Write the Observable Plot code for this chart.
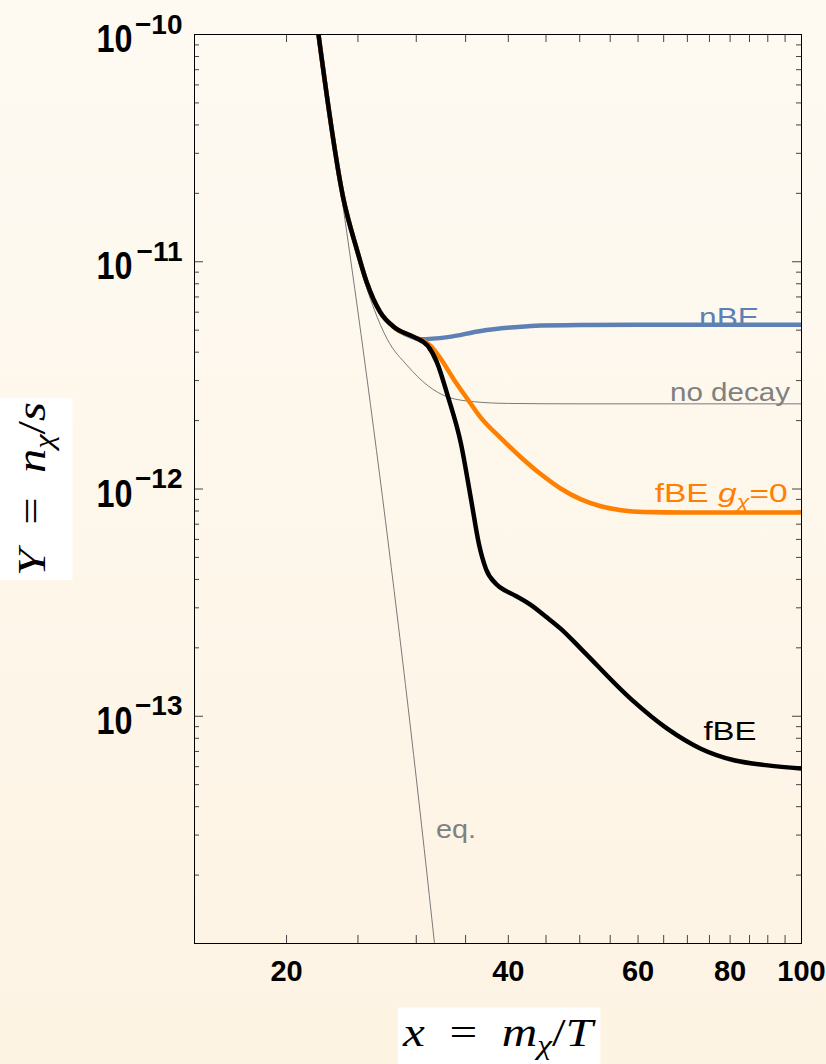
<!DOCTYPE html>
<html><head><meta charset="utf-8">
<script src="https://cdn.jsdelivr.net/npm/d3@7"></script>
<script src="https://cdn.jsdelivr.net/npm/@observablehq/plot@0.6"></script>
<style>
html,body{margin:0;padding:0;width:826px;height:1064px;overflow:hidden;
  background:linear-gradient(180deg,#fefaf2 0%,#fdf3e3 100%);}
#chart svg{display:block;max-width:none;}
</style></head><body><div id="chart"></div>
<script>
// ---------- data ----------
const fbeX = [22.1, 23.9, 24.9, 25.7, 26.8, 28.0, 29.8, 31.1, 32.0, 33.1, 34.5, 35.6, 36.5, 37.3, 38.5, 39.7, 40.9, 42.9, 45.0, 47.1, 50.2, 58.7, 65.8, 73.0, 81.0, 90.0, 100];
const fbeY = [1e-10, 1.88e-11, 1.14e-11, 8.1e-12, 6.0e-12, 5.15e-12, 4.66e-12, 4.26e-12, 3.61e-12, 2.57e-12, 1.58e-12, 9.0e-13, 5.7e-13, 4.45e-13, 3.82e-13, 3.56e-13, 3.39e-13, 3.09e-13, 2.74e-13, 2.43e-13, 1.98e-13, 1.19e-13, 8.8e-14, 7.2e-14, 6.4e-14, 6.08e-14, 5.88e-14];

const fbe0X = [22.1, 23.9, 24.9, 25.7, 26.8, 28.0, 29.8, 31.4, 32.4, 33.7, 35.2, 36.7, 39.1, 41.6, 44.3, 47.1, 50.2, 53.4, 56.9, 61.1, 70, 100];
const fbe0Y = [1e-10, 1.88e-11, 1.14e-11, 8.1e-12, 6.0e-12, 5.15e-12, 4.66e-12, 4.26e-12, 3.73e-12, 3.05e-12, 2.49e-12, 2.06e-12, 1.67e-12, 1.38e-12, 1.16e-12, 1.005e-12, 9.0e-13, 8.4e-13, 8.07e-13, 7.92e-13, 7.88e-13, 7.88e-13];

const nbeX = [22.1, 23.9, 24.9, 25.7, 26.8, 28.0, 29.0, 30.4, 33.1, 36.7, 40.7, 42.9, 50, 60, 100];
const nbeY = [1e-10, 1.88e-11, 1.14e-11, 8.1e-12, 6.0e-12, 5.15e-12, 4.8e-12, 4.56e-12, 4.66e-12, 4.96e-12, 5.15e-12, 5.22e-12, 5.27e-12, 5.28e-12, 5.28e-12];

const noDecayX = [22.1, 23.9, 24.6, 25.2, 26.3, 27.4, 29.2, 31.1, 33.1, 36.0, 40.0, 50, 100];
const noDecayY = [1e-10, 1.88e-11, 1.3e-11, 9.5e-12, 6.18e-12, 4.56e-12, 3.48e-12, 2.85e-12, 2.54e-12, 2.42e-12, 2.38e-12, 2.37e-12, 2.37e-12];

const eqX = [22, 23, 24, 25, 26, 27, 28, 29, 30, 31, 32];
const eqY = [1.0e-10, 3.93e-11, 1.54e-11, 6.02e-12, 2.35e-12, 9.15e-13, 3.55e-13, 1.38e-13, 5.34e-14, 2.06e-14, 7.97e-15];

const xTicks = [20, 25, 30, 35, 40, 45, 50, 55, 60, 65, 70, 75, 80, 85, 90, 95, 100];
const xTickLabels = [20, 40, 60, 80, 100];
const yExponents = [-10, -11, -12, -13, -14];
const yLabelExponents = [-10, -11, -12, -13];

// series labels: left end of each label, text baseline
const labelText = ["nBE", "no decay", "fBE g\u03c7=0", "fBE", "eq."];
const labelX = [72.6, 66.3, 63.2, 73.6, 31.9];
const labelY = [5.24e-12, 2.45e-12, 8.73e-13, 7.9e-14, 2.9e-14];

const xTitle = "x = m\u03c7/T";
const yTitle = "Y = n\u03c7/s";

// ---------- styles / layout ----------
const W = 826, H = 1064, mL = 194, mR = 25, mT = 34, mB = 121;
const PW = W - mL - mR, PH = H - mT - mB;
const labelColor = ["#5e81b5", "#808080", "#ff8000", "#000000", "#808080"];
const labelWidth = [60, 120, 133, 53, 40];

const zip = (xs, ys) => xs.map((x, i) => ({x, y: ys[i]}));
const fbe = zip(fbeX, fbeY), fbe0 = zip(fbe0X, fbe0Y), nbe = zip(nbeX, nbeY),
      noDecay = zip(noDecayX, noDecayY), eq = zip(eqX, eqY);
const labels = labelText.map((t, i) => ({t, x: labelX[i], y: labelY[i], c: labelColor[i]}));

const yMajor = yExponents.map(e => Math.pow(10, e));
const yMinor = [];
for (const e of yExponents.slice(1)) for (let k = 2; k <= 9; k++) yMinor.push(k * Math.pow(10, e));

const sans = "'Liberation Sans', Arial, Helvetica, sans-serif";
const serif = "'Liberation Serif', 'Times New Roman', serif";
const tickColor = "#444";

const chart = Plot.plot({
  width: W, height: H,
  marginLeft: mL, marginRight: mR, marginTop: mT, marginBottom: mB,
  style: {background: "transparent", fontFamily: sans, overflow: "visible"},
  x: {type: "log", domain: [15, 100], axis: null},
  y: {type: "log", domain: [1e-14, 1e-10], axis: null},
  marks: [
    // ticks (inward, on all four sides)
    Plot.tickX(xTicks, {x: d => d, insetTop: PH - 8, stroke: tickColor}),
    Plot.tickX(xTicks, {x: d => d, insetBottom: PH - 8, stroke: tickColor}),
    Plot.tickY(yMajor, {y: d => d, insetRight: PW - 9, stroke: tickColor}),
    Plot.tickY(yMajor, {y: d => d, insetLeft: PW - 9, stroke: tickColor}),
    Plot.tickY(yMinor, {y: d => d, insetRight: PW - 5, stroke: tickColor}),
    Plot.tickY(yMinor, {y: d => d, insetLeft: PW - 5, stroke: tickColor}),
    // curves
    Plot.line(eq, {x: "x", y: "y", stroke: "#7a7a7a", strokeWidth: 1, curve: "monotone-x", clip: true}),
    Plot.line(noDecay, {x: "x", y: "y", stroke: "#7a7a7a", strokeWidth: 1, curve: "monotone-x", clip: true}),
    Plot.line(nbe, {x: "x", y: "y", stroke: "#5e81b5", strokeWidth: 4.5, curve: "monotone-x", clip: true}),
    Plot.line(fbe0, {x: "x", y: "y", stroke: "#ff8000", strokeWidth: 4.5, curve: "monotone-x", clip: true}),
    Plot.line(fbe, {x: "x", y: "y", stroke: "#000000", strokeWidth: 4.5, curve: "monotone-x", clip: true}),
    Plot.frame({stroke: "#000", strokeWidth: 1}),
    // tick labels
    Plot.text(xTickLabels, {x: d => d, frameAnchor: "bottom", text: d => String(d), lineAnchor: "bottom",
      dy: 37, fontSize: 29, fontWeight: "bold", fill: "#000", fontFamily: sans}),
    Plot.text(yLabelExponents, {y: d => Math.pow(10, d), frameAnchor: "left", text: () => "10", textAnchor: "end",
      lineAnchor: "bottom", dx: -62, dy: 17.5, fontSize: 38, fontWeight: "bold", fill: "#000", fontFamily: sans}),
    Plot.text(yLabelExponents, {y: d => Math.pow(10, d), frameAnchor: "left", text: d => "\u2212" + Math.abs(d),
      textAnchor: "end", lineAnchor: "bottom", dx: -12, dy: -1, fontSize: 28, fontWeight: "bold", fill: "#000", fontFamily: sans}),
    // series labels
    Plot.text(labels, {x: "x", y: "y", text: "t", fill: "c", textAnchor: "start", lineAnchor: "bottom",
      fontSize: 26, fontFamily: sans}),
    // axis titles
    Plot.text([xTitle], {frameAnchor: "bottom", text: d => d, textAnchor: "middle", lineAnchor: "bottom", dy: 102,
      fontSize: 40, fontFamily: serif, fill: "#000"}),
    Plot.text([yTitle], {frameAnchor: "left", text: d => d, textAnchor: "middle", lineAnchor: "bottom", rotate: -90, dx: -150,
      fontSize: 40, fontFamily: serif, fill: "#000"})
  ]
});

document.getElementById("chart").append(chart);

// ---------- post-processing of rich text ----------
const allTexts = Array.from(chart.querySelectorAll("text"));
const byContent = s => allTexts.filter(t => t.textContent === s);
const fit = (t, w) => { t.setAttribute("textLength", w); t.setAttribute("lengthAdjust", "spacingAndGlyphs"); };

byContent("10").forEach(t => fit(t, 36));

labelText.forEach((s, i) => {
  byContent(s).forEach(t => {
    if (s === "fBE g\u03c7=0") {
      t.innerHTML = 'fBE <tspan font-style="italic">g</tspan><tspan font-style="italic" font-size="18" dy="6">\u03c7</tspan><tspan dy="-6">=0</tspan>';
    }
    fit(t, labelWidth[i]);
  });
});

function whiteBox(t, padAlong, padTop, padBottom) {
  const b = t.getBBox();
  const r = document.createElementNS("http://www.w3.org/2000/svg", "rect");
  r.setAttribute("x", b.x - padAlong);
  r.setAttribute("y", b.y - padTop);
  r.setAttribute("width", b.width + 2 * padAlong);
  r.setAttribute("height", b.height + padTop + padBottom);
  r.setAttribute("fill", "#ffffff");
  r.setAttribute("stroke", "none");
  if (t.getAttribute("transform")) r.setAttribute("transform", t.getAttribute("transform"));
  t.parentNode.insertBefore(r, t);
}

byContent(xTitle).forEach(t => {
  t.innerHTML = '<tspan font-style="italic">x</tspan>\u2002=\u2002<tspan font-style="italic">m</tspan><tspan font-style="italic" font-size="27" dy="8">\u03c7</tspan><tspan dy="-8">/</tspan><tspan font-style="italic">T</tspan>';
  fit(t, 190);
  whiteBox(t, 4, 2, 10);
});
byContent(yTitle).forEach(t => {
  t.innerHTML = '<tspan font-style="italic">Y</tspan>\u2002=\u2002<tspan font-style="italic">n</tspan><tspan font-style="italic" font-size="27" dy="8">\u03c7</tspan><tspan dy="-8">/</tspan><tspan font-style="italic">s</tspan>';
  fit(t, 174);
  whiteBox(t, 4, 10, 14);
});
</script>
</body></html>
